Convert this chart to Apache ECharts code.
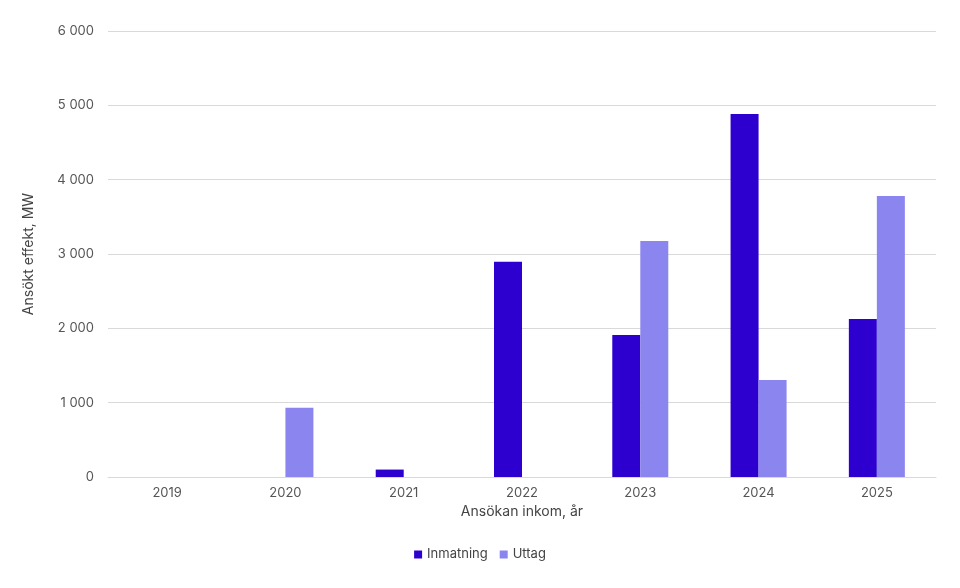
<!DOCTYPE html>
<html><head><meta charset="utf-8">
<script src="https://cdn.jsdelivr.net/npm/echarts@6/dist/echarts.min.js"></script>
<style>html,body{margin:0;padding:0;background:#fff}#c{width:960px;height:588px}</style>
</head><body><div id="c"></div>
<script>
const categories = ['2019','2020','2021','2022','2023','2024','2025'];
const inmatning = [null, null, 100, 2895, 1910, 4885, 2125];
const uttag = [null, 930, null, null, 3175, 1305, 3780];
const yTicks = {min:0, max:6000, interval:1000};
const fmt = v => String(v).replace(/\B(?=(\d{3})+(?!\d))/g, '\u00a0');
const ch = echarts.init(document.getElementById('c'));
ch.setOption({
  textStyle:{fontFamily:'Inter'},
  grid:{left:108,right:24,top:31,bottom:111},
  legend:{bottom:22,itemWidth:8,itemHeight:8,icon:'rect',itemGap:12,
    textStyle:{color:'#444',fontSize:13,fontFamily:'Inter'}},
  xAxis:{type:'category',data:categories,name:'Ansökan inkom, år',nameLocation:'middle',nameGap:28,
    nameTextStyle:{color:'#444',fontSize:14},
    axisLine:{lineStyle:{color:'#d9d9d9'}},axisTick:{show:false},
    axisLabel:{color:'#555',fontSize:13,margin:10}},
  yAxis:{type:'value',...yTicks,name:'Ansökt effekt, MW',nameLocation:'middle',nameGap:72,
    nameTextStyle:{color:'#444',fontSize:14},
    axisLabel:{color:'#555',fontSize:13,formatter:fmt,margin:14},
    splitLine:{lineStyle:{color:'#d9d9d9'}}},
  series:[
    {name:'Inmatning',type:'bar',data:inmatning,barWidth:28,barGap:'0%',itemStyle:{color:'#2e00d0'}},
    {name:'Uttag',type:'bar',data:uttag,barWidth:28,itemStyle:{color:'#8b85f0'}}
  ]
});
</script></body></html>
